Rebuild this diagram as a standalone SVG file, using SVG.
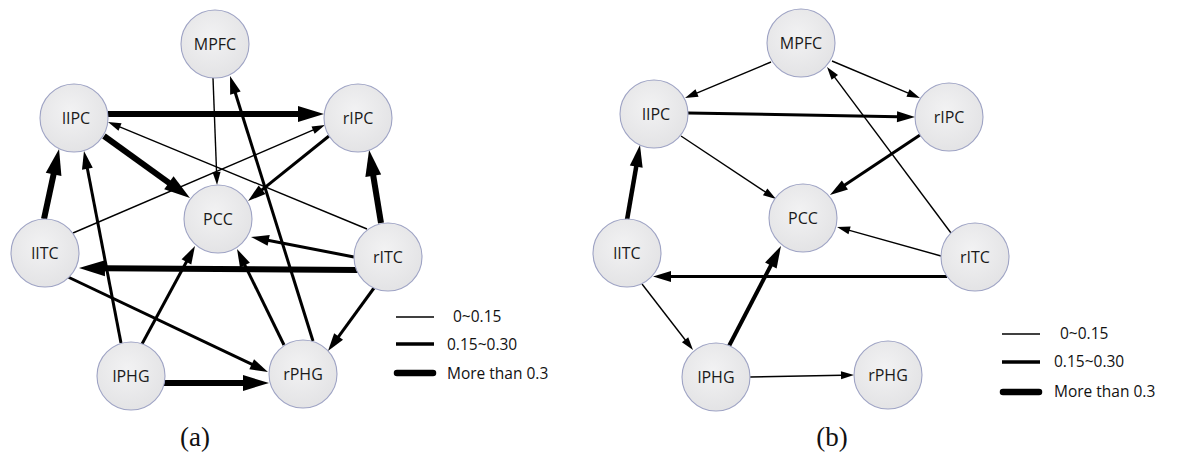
<svg xmlns="http://www.w3.org/2000/svg" width="1178" height="462" viewBox="0 0 1178 462">
<style>
.node circle{fill:url(#ng);stroke:#9ea3c4;stroke-width:1.1}
.node text{font-family:"Open Sans","Liberation Sans",sans-serif;font-size:16px;fill:#1a1a1a;text-anchor:middle}
.e{stroke:#000;fill:none;stroke-linecap:butt}
.thin{stroke-width:1.4;marker-end:url(#mThin)}
.med{stroke-width:3;marker-end:url(#mMed)}
.thick{stroke-width:6;marker-end:url(#mThick)}
.thickb{stroke-width:4.5;marker-end:url(#mThickB)}
.leg{font-family:"Open Sans","Liberation Sans",sans-serif;font-size:15.5px;fill:#111}
.cap{font-family:"Liberation Serif",serif;font-size:27px;fill:#111;text-anchor:middle}
</style>
<defs>
<radialGradient id="ng" cx="0.45" cy="0.4" r="0.65">
<stop offset="0" stop-color="#f2f2f3"/>
<stop offset="1" stop-color="#e2e2e4"/>
</radialGradient>
<marker id="mThin" markerUnits="userSpaceOnUse" markerWidth="13" markerHeight="8" refX="1" refY="4" orient="auto" overflow="visible"><path d="M0,0 L13,4 L0,8 z" fill="#000"/></marker>
<marker id="mMed" markerUnits="userSpaceOnUse" markerWidth="18" markerHeight="11" refX="1" refY="5.5" orient="auto" overflow="visible"><path d="M0,0 L18,5.5 L0,11 z" fill="#000"/></marker>
<marker id="mThick" markerUnits="userSpaceOnUse" markerWidth="26" markerHeight="16" refX="1" refY="8" orient="auto" overflow="visible"><path d="M0,0 L26,8 L0,16 z" fill="#000"/></marker>
<marker id="mThickB" markerUnits="userSpaceOnUse" markerWidth="22" markerHeight="13" refX="1" refY="6.5" orient="auto" overflow="visible"><path d="M0,0 L22,6.5 L0,13 z" fill="#000"/></marker>
</defs>
<rect width="1178" height="462" fill="#fff"/>

<g id="connectors-a">
<line class="e thick" x1="108" y1="114" x2="299" y2="114"/>
<line class="e thin" x1="367" y1="229" x2="119.1" y2="126.6"/>
<line class="e thick" x1="104" y1="136" x2="169.7" y2="183.4"/>
<line class="e thin" x1="213" y1="78" x2="216.6" y2="173"/>
<line class="e med" x1="313" y1="341" x2="235.1" y2="92.2"/>
<line class="e thin" x1="73" y1="233" x2="314" y2="129.7"/>
<line class="e med" x1="329" y1="136" x2="261.3" y2="190.4"/>
<line class="e thick" x1="44" y1="219" x2="53.8" y2="173.4"/>
<line class="e med" x1="121" y1="343" x2="87.2" y2="167.7"/>
<line class="e thick" x1="381" y1="223" x2="373.1" y2="174.7"/>
<line class="e med" x1="354" y1="257" x2="267.7" y2="240.2"/>
<line class="e thick" x1="358" y1="270" x2="104" y2="268.2"/>
<line class="e med" x1="374" y1="288" x2="338" y2="337.3"/>
<line class="e med" x1="68" y1="277" x2="252.6" y2="364.7"/>
<line class="e med" x1="142" y1="344" x2="186.9" y2="261"/>
<line class="e med" x1="284" y1="345" x2="244.5" y2="264.3"/>
<line class="e thick" x1="164" y1="383" x2="244" y2="383"/>
</g>

<g id="connectors-b">
<line class="e thin" x1="771" y1="62" x2="696.1" y2="93.4"/>
<line class="e thin" x1="832" y1="61" x2="908.9" y2="93.4"/>
<line class="e med" x1="688" y1="113" x2="898" y2="116.7"/>
<line class="e thin" x1="681" y1="136" x2="766" y2="192.4"/>
<line class="e med" x1="920" y1="135" x2="844.1" y2="185.6"/>
<line class="e thin" x1="951" y1="233" x2="834.2" y2="76.6"/>
<line class="e thickb" x1="627" y1="220" x2="636.4" y2="165.7"/>
<line class="e thin" x1="941" y1="256" x2="848.6" y2="230.2"/>
<line class="e med" x1="947" y1="276.5" x2="670" y2="276.5"/>
<line class="e thin" x1="642" y1="284" x2="685.7" y2="340.5"/>
<line class="e thickb" style="stroke-width:4" x1="729" y1="346" x2="771.3" y2="264.6"/>
<line class="e thin" x1="750" y1="377" x2="842" y2="375.2"/>
</g>

<g id="a-MPFC" class="node"><circle cx="215" cy="44" r="34"/><text x="215" y="50">MPFC</text></g>
<g id="a-lIPC" class="node"><circle cx="74" cy="118" r="34"/><text x="76" y="124">lIPC</text></g>
<g id="a-rIPC" class="node"><circle cx="358" cy="118" r="34"/><text x="358" y="124">rIPC</text></g>
<g id="a-PCC" class="node"><circle cx="218" cy="219" r="34"/><text x="218" y="225">PCC</text></g>
<g id="a-lITC" class="node"><circle cx="45" cy="253" r="34"/><text x="45" y="259">lITC</text></g>
<g id="a-rITC" class="node"><circle cx="388" cy="257" r="34"/><text x="388" y="263">rITC</text></g>
<g id="a-lPHG" class="node"><circle cx="131" cy="376" r="34"/><text x="131" y="382">lPHG</text></g>
<g id="a-rPHG" class="node"><circle cx="303" cy="374" r="34"/><text x="303" y="380">rPHG</text></g>

<g id="b-MPFC" class="node"><circle cx="801" cy="43" r="34"/><text x="801" y="49">MPFC</text></g>
<g id="b-lIPC" class="node"><circle cx="654" cy="114" r="34"/><text x="656" y="120">lIPC</text></g>
<g id="b-rIPC" class="node"><circle cx="949" cy="117" r="34"/><text x="949" y="123">rIPC</text></g>
<g id="b-PCC" class="node"><circle cx="803" cy="218" r="34"/><text x="803" y="224">PCC</text></g>
<g id="b-lITC" class="node"><circle cx="627" cy="253" r="34"/><text x="627" y="259">lITC</text></g>
<g id="b-rITC" class="node"><circle cx="975" cy="257" r="34"/><text x="975" y="263">rITC</text></g>
<g id="b-lPHG" class="node"><circle cx="716" cy="377" r="34"/><text x="716" y="383">lPHG</text></g>
<g id="b-rPHG" class="node"><circle cx="888" cy="375" r="34"/><text x="888" y="381">rPHG</text></g>

<g id="legend-a">
<line x1="396" y1="317" x2="434" y2="317" stroke="#000" stroke-width="1.4"/>
<line x1="396" y1="344" x2="434" y2="344" stroke="#000" stroke-width="3.5"/>
<line x1="397" y1="373" x2="433" y2="373" stroke="#000" stroke-width="6.5" stroke-linecap="round"/>
<text class="leg" x="453" y="322">0~0.15</text>
<text class="leg" x="447" y="350">0.15~0.30</text>
<text class="leg" x="447" y="379">More than 0.3</text>
</g>
<g id="legend-b">
<line x1="1002" y1="334" x2="1040" y2="334" stroke="#000" stroke-width="1.4"/>
<line x1="1002" y1="362" x2="1040" y2="362" stroke="#000" stroke-width="3.5"/>
<line x1="1003" y1="392" x2="1039" y2="392" stroke="#000" stroke-width="6.5" stroke-linecap="round"/>
<text class="leg" x="1060" y="339">0~0.15</text>
<text class="leg" x="1054" y="367">0.15~0.30</text>
<text class="leg" x="1054" y="397">More than 0.3</text>
</g>
<text class="cap" x="195" y="446">(a)</text>
<text class="cap" x="832" y="446">(b)</text>
</svg>
